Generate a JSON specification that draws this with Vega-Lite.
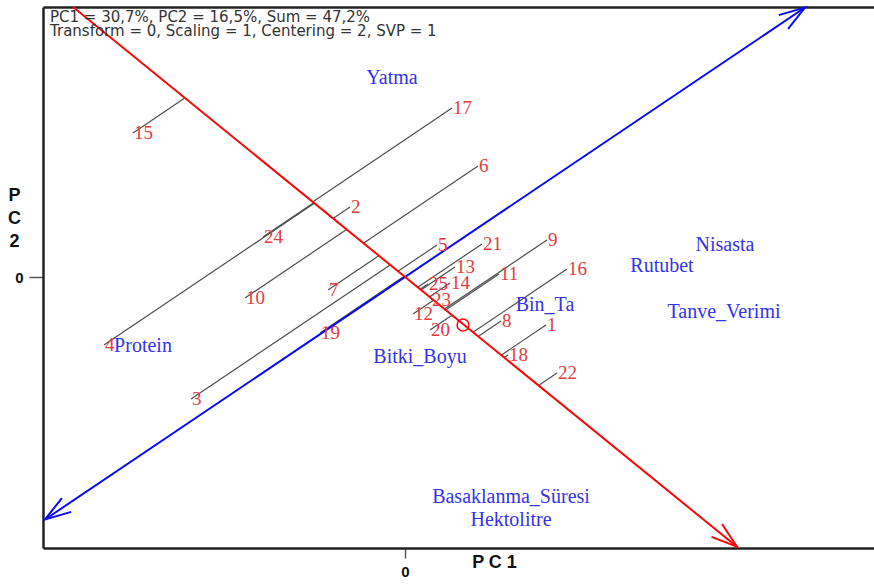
{
  "$schema": "https://vega.github.io/schema/vega-lite/v6.json",
  "width": 846,
  "height": 541,
  "autosize": {"type": "none"},
  "padding": {"left": 43, "top": 7, "right": -15, "bottom": 37},
  "background": "white",
  "view": {"stroke": null},
  "config": {"view": {"stroke": null}},
  "datasets": {
    "genotypes": [
      {"g": "1", "x": 1.41, "y": -0.48, "px": 0.962, "py": -0.782},
      {"g": "2", "x": -0.55, "y": 0.70, "px": -0.720, "py": 0.585},
      {"g": "3", "x": -2.14, "y": -1.22, "px": -0.149, "py": 0.121},
      {"g": "4", "x": -3.01, "y": -0.68, "px": -0.907, "py": 0.737},
      {"g": "5", "x": 0.32, "y": 0.32, "px": -0.070, "py": 0.057},
      {"g": "6", "x": 0.73, "y": 1.11, "px": -0.416, "py": 0.338},
      {"g": "7", "x": -0.77, "y": -0.13, "px": -0.262, "py": 0.212},
      {"g": "8", "x": 0.96, "y": -0.44, "px": 0.731, "py": -0.594},
      {"g": "9", "x": 1.42, "y": 0.37, "px": 0.395, "py": -0.321},
      {"g": "10", "x": -1.60, "y": -0.21, "px": -0.584, "py": 0.475},
      {"g": "11", "x": 0.94, "y": 0.03, "px": 0.406, "py": -0.330},
      {"g": "12", "x": 0.08, "y": -0.37, "px": 0.285, "py": -0.232},
      {"g": "13", "x": 0.50, "y": 0.10, "px": 0.159, "py": -0.130},
      {"g": "14", "x": 0.45, "y": -0.06, "px": 0.244, "py": -0.199},
      {"g": "15", "x": -2.72, "y": 1.44, "px": -2.202, "py": 1.789},
      {"g": "16", "x": 1.62, "y": 0.08, "px": 0.680, "py": -0.553},
      {"g": "17", "x": 0.47, "y": 1.69, "px": -0.924, "py": 0.751},
      {"g": "18", "x": 1.03, "y": -0.78, "px": 0.992, "py": -0.806},
      {"g": "19", "x": -0.85, "y": -0.56, "px": -0.008, "py": 0.007},
      {"g": "20", "x": 0.25, "y": -0.53, "px": 0.470, "py": -0.382},
      {"g": "21", "x": 0.77, "y": 0.33, "px": 0.127, "py": -0.103},
      {"g": "22", "x": 1.52, "y": -0.96, "px": 1.335, "py": -1.085},
      {"g": "23", "x": 0.26, "y": -0.23, "px": 0.273, "py": -0.222},
      {"g": "24", "x": -1.42, "y": 0.40, "px": -0.913, "py": 0.742},
      {"g": "25", "x": 0.23, "y": -0.07, "px": 0.151, "py": -0.123}
    ],
    "traits": [
      {"t": "Yatma", "x": -0.13, "y": 1.99},
      {"t": "Nisasta", "x": 3.20, "y": 0.32},
      {"t": "Rutubet", "x": 2.57, "y": 0.11},
      {"t": "Tanve_Verimi", "x": 3.19, "y": -0.35},
      {"t": "Bin_Ta", "x": 1.40, "y": -0.28},
      {"t": "Bitki_Boyu", "x": 0.15, "y": -0.80},
      {"t": "Protein", "x": -2.62, "y": -0.69},
      {"t": "Basaklanma_Süresi", "x": 1.06, "y": -2.20},
      {"t": "Hektolitre", "x": 1.06, "y": -2.43}
    ],
    "axes": [
      {"id": "blue", "x": -3.60, "y": -2.425, "x2": 4.00, "y2": 2.695},
      {"id": "red", "x": -3.32, "y": 2.70, "x2": 3.32, "y2": -2.698}
    ],
    "arrows": [
      {"id": "blue_end", "x": 4.00, "y": 2.695},
      {"id": "blue_start", "x": -3.60, "y": -2.425},
      {"id": "red_end", "x": 3.32, "y": -2.698}
    ],
    "avg": [{"x": 0.58, "y": -0.48}],
    "notes": [
      {"text": "PC1 = 30,7%, PC2 = 16,5%, Sum = 47,2%", "x": -3.55, "y": 2.60},
      {"text": "Transform = 0, Scaling = 1, Centering = 2, SVP = 1", "x": -3.55, "y": 2.465}
    ]
  },
  "layer": [
    {
      "data": {"name": "genotypes"},
      "mark": {"type": "rule", "color": "#4d4d4d", "strokeWidth": 1.2},
      "encoding": {
        "x": {
          "field": "x", "type": "quantitative",
          "scale": {"domain": [-3.62, 4.84], "nice": false, "zero": false},
          "axis": {
            "values": [0], "format": "d", "domain": true, "domainColor": "#222222", "domainWidth": 2.5, "grid": false,
            "tickSize": 10, "tickColor": "#555555", "tickWidth": 1.5,
            "labelFont": "Liberation Sans", "labelFontSize": 15, "labelFontWeight": "bold",
            "labelColor": "#111111", "labelPadding": 6,
            "title": "P C 1", "titleFont": "Liberation Sans", "titleFontSize": 18,
            "titleFontWeight": "bold", "titleColor": "#111111",
            "titleX": 451, "titleY": 14, "titleBaseline": "middle", "titleAlign": "center"
          }
        },
        "y": {
          "field": "y", "type": "quantitative",
          "scale": {"domain": [-2.71, 2.70], "nice": false, "zero": false},
          "axis": {
            "values": [0, 2.70], "labelExpr": "datum.value == 0 ? '0' : ''",
            "domain": true, "domainColor": "#222222", "domainWidth": 2.5,
            "grid": true, "gridColor": "#222222", "gridWidth": 2.5,
            "gridOpacity": {"condition": {"test": "datum.value > 1", "value": 1}, "value": 0},
            "tickOpacity": {"condition": {"test": "datum.value > 1", "value": 0}, "value": 1},
            "tickSize": 14, "tickColor": "#555555", "tickWidth": 1.5,
            "labelFont": "Liberation Sans", "labelFontSize": 15, "labelFontWeight": "bold",
            "labelColor": "#111111", "labelPadding": 6,
            "title": ["P", "C", "2"], "titleAngle": 0, "titleFont": "Liberation Sans",
            "titleFontSize": 18, "titleFontWeight": "bold", "titleColor": "#111111",
            "titleX": -29, "titleY": 179, "titleBaseline": "top", "titleAlign": "center",
            "titleLineHeight": 23
          }
        },
        "x2": {"field": "px"},
        "y2": {"field": "py"}
      }
    },
    {
      "data": {"name": "axes"},
      "mark": {"type": "rule", "strokeWidth": 2},
      "encoding": {
        "x": {"field": "x", "type": "quantitative"},
        "y": {"field": "y", "type": "quantitative"},
        "x2": {"field": "x2"},
        "y2": {"field": "y2"},
        "color": {"field": "id", "type": "nominal", "scale": {"domain": ["blue", "red"], "range": ["#0a0af0", "#f50a0a"]}, "legend": null}
      }
    },
    {
      "data": {"name": "arrows"},
      "transform": [{"filter": "datum.id === 'blue_end'"}],
      "mark": {"type": "point", "shape": "M-0.32,1L0,0L0.32,1", "filled": false, "stroke": "#0a0af0", "strokeWidth": 2, "size": 2704, "angle": 56, "opacity": 1},
      "encoding": {"x": {"field": "x", "type": "quantitative"}, "y": {"field": "y", "type": "quantitative"}}
    },
    {
      "data": {"name": "arrows"},
      "transform": [{"filter": "datum.id === 'blue_start'"}],
      "mark": {"type": "point", "shape": "M-0.32,1L0,0L0.32,1", "filled": false, "stroke": "#0a0af0", "strokeWidth": 2, "size": 2704, "angle": 236, "opacity": 1},
      "encoding": {"x": {"field": "x", "type": "quantitative"}, "y": {"field": "y", "type": "quantitative"}}
    },
    {
      "data": {"name": "arrows"},
      "transform": [{"filter": "datum.id === 'red_end'"}],
      "mark": {"type": "point", "shape": "M-0.32,1L0,0L0.32,1", "filled": false, "stroke": "#f50a0a", "strokeWidth": 2, "size": 2704, "angle": 129, "opacity": 1},
      "encoding": {"x": {"field": "x", "type": "quantitative"}, "y": {"field": "y", "type": "quantitative"}}
    },
    {
      "data": {"name": "avg"},
      "mark": {"type": "point", "shape": "circle", "filled": false, "stroke": "#f50a0a", "strokeWidth": 1.5, "size": 140, "opacity": 1},
      "encoding": {"x": {"field": "x", "type": "quantitative"}, "y": {"field": "y", "type": "quantitative"}}
    },
    {
      "data": {"name": "genotypes"},
      "mark": {"type": "text", "align": "left", "baseline": "middle", "dx": 1, "font": "Liberation Serif", "fontSize": 19, "color": "#e8383e"},
      "encoding": {
        "x": {"field": "x", "type": "quantitative"},
        "y": {"field": "y", "type": "quantitative"},
        "text": {"field": "g"}
      }
    },
    {
      "data": {"name": "traits"},
      "mark": {"type": "text", "align": "center", "baseline": "middle", "font": "Liberation Serif", "fontSize": 20, "color": "#3333ee"},
      "encoding": {
        "x": {"field": "x", "type": "quantitative"},
        "y": {"field": "y", "type": "quantitative"},
        "text": {"field": "t"}
      }
    },
    {
      "data": {"name": "notes"},
      "mark": {"type": "text", "align": "left", "baseline": "middle", "font": "DejaVu Sans", "fontSize": 15, "color": "#333333"},
      "encoding": {
        "x": {"field": "x", "type": "quantitative"},
        "y": {"field": "y", "type": "quantitative"},
        "text": {"field": "text"}
      }
    }
  ]
}
